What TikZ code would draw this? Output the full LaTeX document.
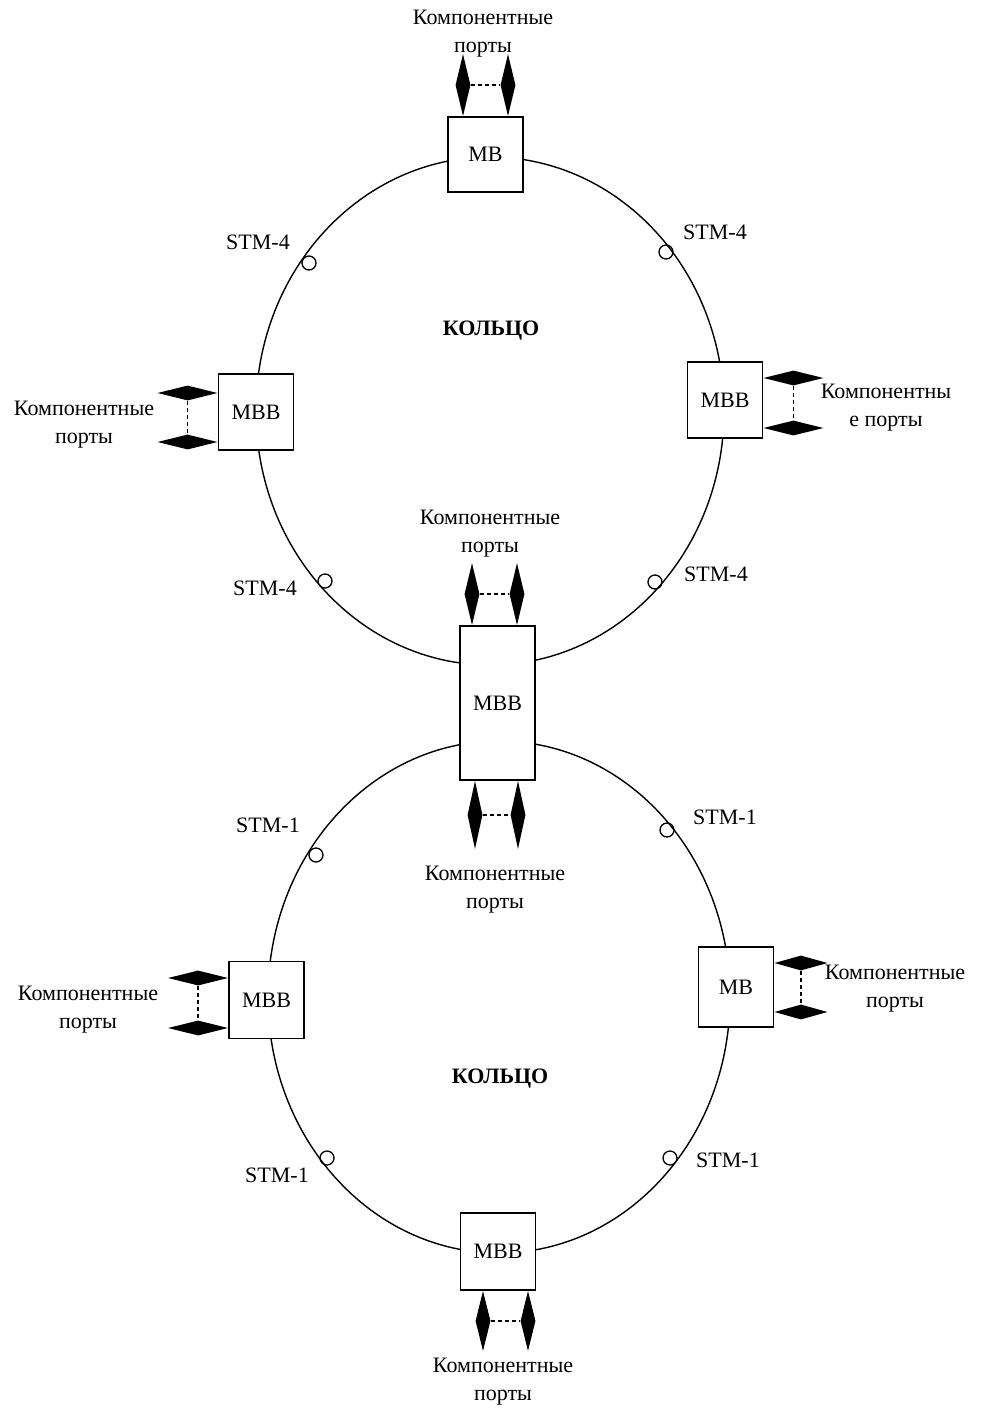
\documentclass[tikz,border=0pt]{standalone}
\usepackage{fontspec}
\setmainfont{Liberation Serif}
\usetikzlibrary{shapes.geometric, positioning}

\begin{document}
\begin{tikzpicture}[x=1pt, y=-1pt, font=\fontsize{22}{28}\selectfont,
  mux/.style={rectangle, draw, fill=white, line width=1.5pt, inner sep=0pt,
              minimum width=75pt},
  vport/.style={diamond, fill=black, inner sep=0pt, minimum width=15pt, minimum height=62pt},
  hport/.style={diamond, fill=black, inner sep=0pt, minimum width=60pt, minimum height=15pt},
  link/.style={line width=1.2pt, dash pattern=on 4pt off 3pt},
  ring/.style={line width=1.4pt},
  tap/.style={circle, draw, line width=1.3pt, inner sep=0pt, minimum size=14pt},
  lbl/.style={align=center}]
  \useasboundingbox (0,0) rectangle (980,1410);
  % two rings
  \draw[ring] (490,411) ellipse [x radius=234, y radius=254];
  \draw[ring] (499,997) ellipse [x radius=231, y radius=256];
  \node[font=\fontsize{22}{28}\selectfont\bfseries] (ring1) at (491,331) {КОЛЬЦО};
  \node[font=\fontsize{22}{28}\selectfont\bfseries] (ring2) at (500,1079) {КОЛЬЦО};

  % multiplexers
  \node[mux, minimum height=75pt]  (mbtop) at (485.5,154.5) {МВ};
  \node[mux, minimum height=76pt]  (mbbl1) at (256,412)     {МВВ};
  \node[mux, minimum height=76pt]  (mbbr1) at (725,400)     {МВВ};
  \node[mux, minimum height=154pt] (mbbmid) at (497.5,703)  {МВВ};
  \node[mux, minimum height=77pt]  (mbbl2) at (266.5,1000)  {МВВ};
  \node[mux, minimum height=80pt]  (mbr2) at (736,987)      {МВ};
  \node[mux, minimum height=77pt]  (mbbbot) at (498,1251.5) {МВВ};

  % component ports
  \node[vport, anchor=south] (ptA) at ([xshift=-22.5pt]mbtop.north) {};
  \node[vport, anchor=south] (ptB) at ([xshift=22.5pt]mbtop.north) {};
  \draw[link] (ptA.east) -- (ptB.west);
  \node[hport, anchor=east] (pl1A) at ([yshift=19pt]mbbl1.west) {};
  \node[hport, anchor=east] (pl1B) at ([yshift=-30pt]mbbl1.west) {};
  \draw[link] (pl1A.south) -- (pl1B.north);
  \node[hport, anchor=west] (pr1A) at ([yshift=22pt]mbbr1.east) {};
  \node[hport, anchor=west] (pr1B) at ([yshift=-28pt]mbbr1.east) {};
  \draw[link] (pr1A.south) -- (pr1B.north);
  \node[vport, anchor=south] (pmA) at ([xshift=-25.5pt]mbbmid.north) {};
  \node[vport, anchor=south] (pmB) at ([xshift=19.5pt]mbbmid.north) {};
  \draw[link] (pmA.east) -- (pmB.west);
  \node[vport, anchor=north, minimum height=68pt] (pnA) at ([xshift=-22.5pt]mbbmid.south) {};
  \node[vport, anchor=north, minimum height=68pt] (pnB) at ([xshift=20.5pt]mbbmid.south) {};
  \draw[link] (pnA.east) -- (pnB.west);
  \node[hport, anchor=east] (pl2A) at ([yshift=22pt]mbbl2.west) {};
  \node[hport, anchor=east] (pl2B) at ([yshift=-28pt]mbbl2.west) {};
  \draw[link] (pl2A.south) -- (pl2B.north);
  \node[hport, anchor=west, minimum width=53pt] (pr2A) at ([yshift=24pt]mbr2.east) {};
  \node[hport, anchor=west, minimum width=53pt] (pr2B) at ([yshift=-25pt]mbr2.east) {};
  \draw[link] (pr2A.south) -- (pr2B.north);
  \node[vport, anchor=north, minimum height=60pt] (pbA) at ([xshift=-15pt]mbbbot.south) {};
  \node[vport, anchor=north, minimum height=60pt] (pbB) at ([xshift=30pt]mbbbot.south) {};
  \draw[link] (pbA.east) -- (pbB.west);

  % port captions
  \node[lbl] (ctop) at (483,34)  {Компонентные\\порты};
  \node[lbl] (cl1)  at (84,425)  {Компонентные\\порты};
  \node[lbl] (cr1)  at (886,408) {Компонентны\\е порты};
  \node[lbl] (cm1)  at (490,534) {Компонентные\\порты};
  \node[lbl] (cm2)  at (495,890) {Компонентные\\порты};
  \node[lbl] (cl2)  at (88,1010) {Компонентные\\порты};
  \node[lbl] (cr2)  at (895,989) {Компонентные\\порты};
  \node[lbl] (cbot) at (503,1382) {Компонентные\\порты};

  % line taps
  \foreach \x/\y [count=\i] in {309/263, 666/252, 325/581, 655/582,
                                316/855, 667/830, 327/1158, 670/1158}
    \node[tap] (tap\i) at (\x,\y) {};
  \foreach \x/\y/\name [count=\i] in {258/242/STM-4, 715/232/STM-4, 265/588/STM-4, 716/574/STM-4,
                                      268/825/STM-1, 725/817/STM-1, 277/1175/STM-1, 728/1160/STM-1}
    \node (stm\i) at (\x,\y) {\name};
\end{tikzpicture}
\end{document}
